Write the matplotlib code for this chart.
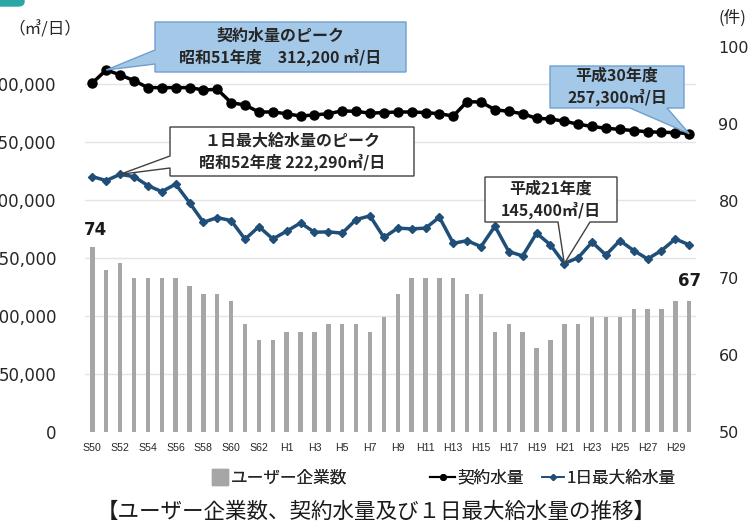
import matplotlib
matplotlib.use('Agg')
import matplotlib.pyplot as plt
from matplotlib.lines import Line2D
from matplotlib.patches import Polygon, FancyBboxPatch
from matplotlib.transforms import blended_transform_factory

plt.rcParams['font.family'] = ['Noto Sans CJK JP', 'DejaVu Sans']

# fiscal years S50..S63, H1..H30
years = ['S%d' % y for y in range(50, 64)] + ['H%d' % y for y in range(1, 31)]

# ユーザー企業数 (件)
users = [74, 71, 72, 70, 70, 70, 70, 69, 68, 68, 67, 64, 62, 62,
         63, 63, 63, 64, 64, 64, 63, 65, 68, 70, 70, 70, 70, 68, 68, 63,
         64, 63, 61, 62, 64, 64, 65, 65, 65, 66, 66, 66, 67, 67]

# 契約水量 (m3/日)
contract = [301000, 312200, 308000, 303000, 297000, 297000, 297000, 297000,
            295000, 295500, 284000, 282000, 276000, 276000,
            274500, 272500, 273500, 274500, 277000, 276500, 275000, 275500,
            276000, 276000, 275500, 274500, 272500, 285000, 284500, 278000,
            276500, 274500, 270500, 270000, 268000, 265500, 263500, 262000,
            261000, 260000, 259000, 258500, 258300, 257300]

# 1日最大給水量 (m3/日)
daymax = [220300, 216900, 222290, 220300, 212600, 207400, 213800, 197900,
          181000, 185000, 182400, 166400, 177200, 166600,
          173300, 180400, 172400, 172700, 171600, 183300, 186500, 167900,
          175900, 175300, 175900, 185300, 162900, 165100, 160000, 177600,
          155700, 152000, 171600, 161500, 145400, 150500, 163800, 152800,
          165200, 156600, 149400, 156600, 166600, 161500]

left_ticks = [0, 50000, 100000, 150000, 200000, 250000, 300000]
right_ticks = [50, 60, 70, 80, 90, 100]

W, H = 752, 528
fig = plt.figure(figsize=(W / 100, H / 100), dpi=100)

def fx(px):
    return px / W

def fy(py):
    return 1 - py / H

axb = fig.add_axes([fx(85.4), fy(432.3), (696.2 - 85.4) / W, (432.3 - 47) / H])
axl = axb.twinx()

x = list(range(len(years)))

# bars on right axis
axb.bar(x, users, width=0.32, color='#a6a6a6', zorder=2)
axb.set_ylim(50, 100)
axb.set_xlim(-0.5, len(years) - 0.5)
axb.yaxis.tick_right()
axb.set_yticks(right_ticks)
axb.tick_params(axis='y', length=0, pad=16, labelsize=11.5)
for lab in axb.get_yticklabels():
    lab.set_fontfamily('DejaVu Sans')
    lab.set_color('#262626')

axb.set_xticks(x[::2])
axb.set_xticklabels(years[::2], fontsize=7.6, color='#262626',
                    family=['Liberation Sans', 'DejaVu Sans'])
axb.tick_params(axis='x', length=0, pad=8)

axb.annotate(str(users[0]), (x[0], users[0]), xytext=(2, 6), textcoords='offset points',
             ha='center', va='bottom', fontsize=12, fontweight='bold', color='#1a1a1a',
             family='DejaVu Sans')
axb.annotate(str(users[-1]), (x[-1], users[-1]), xytext=(0, 8), textcoords='offset points',
             ha='center', va='bottom', fontsize=12, fontweight='bold', color='#1a1a1a',
             family='DejaVu Sans')

# lines on left axis
axl.set_ylim(0, 332000)
axl.yaxis.tick_left()
axl.set_yticks(left_ticks)
axl.set_yticklabels(['{:,}'.format(v) for v in left_ticks])
axl.tick_params(axis='y', length=0, pad=21, labelsize=12)
for lab in axl.get_yticklabels():
    lab.set_fontfamily('DejaVu Sans')
    lab.set_color('#262626')

# faint grid at left ticks, drawn behind the bars
gtr = blended_transform_factory(axb.transAxes, axl.transData)
for v in left_ticks[1:]:
    axb.plot([0, 1], [v, v], transform=gtr, color='#e4e4e4', lw=1, zorder=0)

axl.plot(x, contract, color='black', lw=2.5, marker='o', markersize=6.5, zorder=4)
axl.plot(x, daymax, color='#1f4e79', lw=2.5, marker='D', markersize=4.5, zorder=4)

for a in (axb, axl):
    for s in a.spines.values():
        s.set_visible(False)

# unit labels
fig.text(fx(8), fy(30), '（㎥/日）', fontsize=12, color='#262626', va='center', ha='left')
fig.text(fx(718), fy(18), '(件)', fontsize=12, color='#262626', va='center', ha='left')

# callouts
def to_fig(i, v):
    d = axl.transData.transform((i, v))
    return fig.transFigure.inverted().transform(d)

def callout(box, side, base, tip, fc, ec, text, size):
    x0, y0, x1, y1 = box
    tx, ty = tip
    if side == 'left':
        pts = [(fx(x0), fy(y0)), (fx(x1), fy(y0)), (fx(x1), fy(y1)), (fx(x0), fy(y1)),
               (fx(x0), fy(base[1])), (tx, ty), (fx(x0), fy(base[0]))]
    else:
        pts = [(fx(x0), fy(y0)), (fx(x1), fy(y0)), (fx(x1), fy(y1)),
               (fx(base[1]), fy(y1)), (tx, ty), (fx(base[0]), fy(y1)), (fx(x0), fy(y1))]
    poly = Polygon(pts, closed=True, facecolor=fc, edgecolor=ec, lw=1,
                   transform=fig.transFigure, zorder=5)
    fig.add_artist(poly)
    fig.text(fx((x0 + x1) / 2), fy((y0 + y1) / 2), text, ha='center', va='center',
             fontsize=size, fontweight='bold', color='#262626', zorder=6,
             linespacing=1.35)

callout((155, 22, 406, 72), 'left', (50, 64), to_fig(1, contract[1]),
        '#a4c8e8', '#6f9fcf', '契約水量のピーク\n昭和51年度　312,200 ㎥/日', 11.5)
callout((170, 127, 414, 176), 'left', (156, 168), to_fig(2, daymax[2]),
        'white', '#404040', '１日最大給水量のピーク\n昭和52年度 222,290㎥/日', 11.5)
callout((550, 66, 684, 108), 'bottom', (630, 667), to_fig(43, contract[43]),
        '#a4c8e8', '#6f9fcf', '平成30年度\n257,300㎥/日', 11.5)
callout((485, 177, 617, 222), 'bottom', (558, 590), to_fig(34, daymax[34]),
        'white', '#404040', '平成21年度\n145,400㎥/日', 11.5)

# legend, one entry at a time to keep the uneven spacing
legend_items = [
    (Line2D([], [], color='#a6a6a6', marker='s', linestyle='None', markersize=11),
     'ユーザー企業数', 212, 1.0),
    (Line2D([], [], color='black', marker='o', lw=1.5, markersize=4),
     '契約水量', 430, 1.5),
    (Line2D([], [], color='#1f4e79', marker='D', lw=1.2, markersize=3),
     '1日最大給水量', 542, 1.3),
]
for h, lbl, px, hl in legend_items:
    leg = fig.legend([h], [lbl], loc='center left', bbox_to_anchor=(fx(px), fy(478)),
                     frameon=False, fontsize=12, handlelength=hl, handletextpad=0.15,
                     borderpad=0, borderaxespad=0, labelcolor='#262626')
    fig.add_artist(leg)

fig.text(fx(376), fy(512), '【ユーザー企業数、契約水量及び１日最大給水量の推移】',
         ha='center', va='center', fontsize=15.5, color='#1a1a1a')

# teal tab in the corner
fig.add_artist(FancyBboxPatch((fx(-10), fy(6)), fx(34), fy(-10) - fy(6),
                              boxstyle='round,pad=0,rounding_size=0.008',
                              transform=fig.transFigure, color='#2aa7a5', zorder=7))

fig.savefig('out.png', dpi=100)
